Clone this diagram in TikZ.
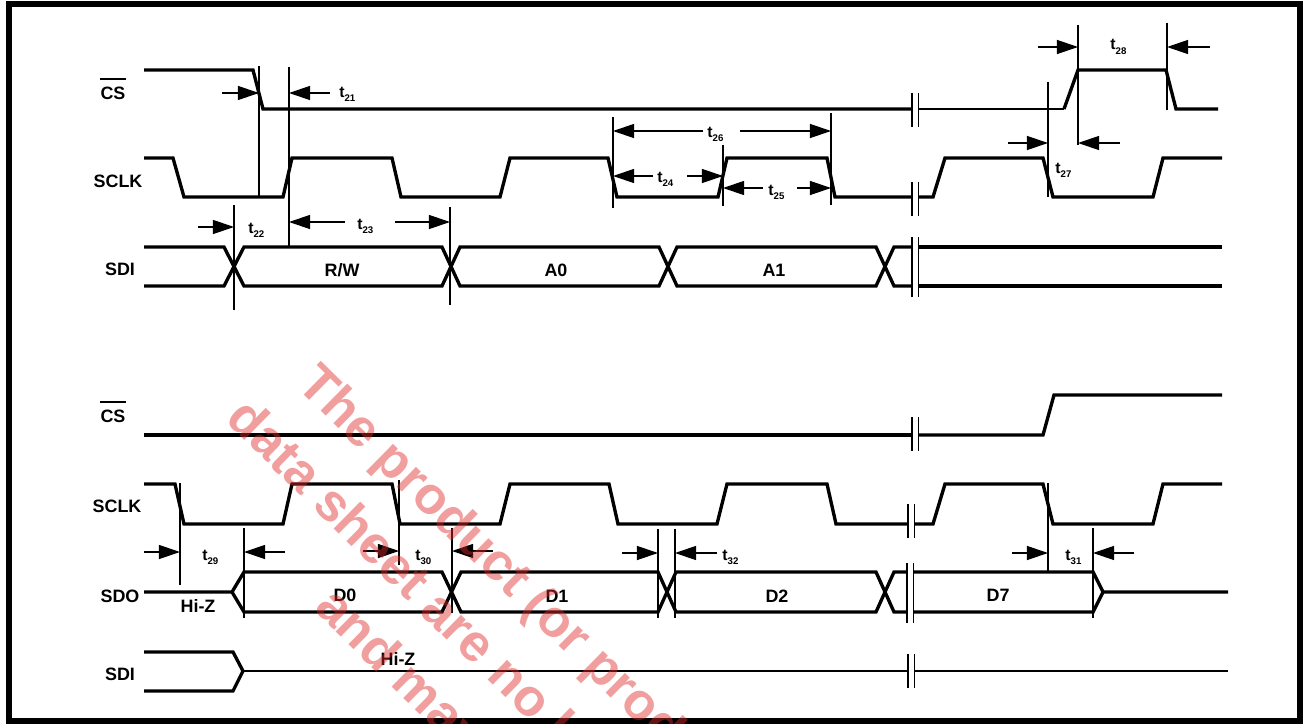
\documentclass[tikz,border=0pt]{standalone}
\usepackage{fontspec}
\setmainfont{Liberation Sans}
\usetikzlibrary{arrows.meta}
\definecolor{wmred}{RGB}{225,40,40}
\newcommand{\tsub}[1]{t\raisebox{-2.8pt}{\fontsize{5.5}{6}\selectfont #1}}
\tikzset{
  sig/.style={line width=1.9pt},
  hiz/.style={line width=1.1pt},
  guide/.style={line width=0.6pt},
  brk/.style={line width=0.8pt},
  dimarr/.style={line width=0.7pt,-{Triangle[length=12pt,width=8pt]}},
  lbl/.style={font=\bfseries\fontsize{10.2}{12}\selectfont,inner sep=0pt,anchor=base},
  tlbl/.style={font=\bfseries\fontsize{9}{10}\selectfont,inner sep=0pt,anchor=base west},
  wm/.style={font=\bfseries\fontsize{29.8}{36}\selectfont,text=wmred,text opacity=0.45,
    inner sep=0pt,anchor=base west,rotate=-44.6}
}
\begin{document}
\begin{tikzpicture}[x=0.02cm,y=-0.02cm]
\useasboundingbox (0,0) rectangle (1304,723);
\draw[line width=3.4pt] (9,4) rectangle (1300,721);

\node[lbl] (cstop) at (113,99) {CS};
\draw[line width=1.1pt] ([yshift=3.8pt]cstop.north west) -- ([yshift=3.8pt]cstop.north east);
\node[lbl] (sclktop) at (118,187) {SCLK};
\node[lbl] (sditop) at (120,275) {SDI};
\node[lbl] (csbot) at (113,422) {CS};
\draw[line width=1.1pt] ([yshift=3.8pt]csbot.north west) -- ([yshift=3.8pt]csbot.north east);
\node[lbl] (sclkbot) at (117,512) {SCLK};
\node[lbl] (sdobot) at (120,602) {SDO};
\node[lbl] (sdibot) at (120,680) {SDI};

\draw[sig] (144,70) -- (253,70) -- (263,109) -- (912,109);
\draw[hiz] (918,109) -- (1064,109);
\draw[sig] (1064,109) -- (1078,70) -- (1166,70) -- (1176,109) -- (1218,109);
\draw[sig] (144,158) -- (173,158) -- (184,197) -- (283,197) -- (292,158) -- (392,158) -- (401,197) -- (500,197) -- (510,158) -- (608,158) -- (617,197) -- (718,197) -- (727,158) -- (827,158) -- (835,197) -- (912,197);
\draw[sig] (918,197) -- (933,197) -- (945,158) -- (1043,158) -- (1053,197) -- (1153,197) -- (1163,158) -- (1222,158);
\draw[sig] (144,247) -- (224,247) -- (244,286) -- (442,286) -- (460,247) -- (659,247) -- (677,286) -- (876,286) -- (894,247) -- (912,247);
\draw[sig] (144,286) -- (224,286) -- (244,247) -- (442,247) -- (460,286) -- (659,286) -- (677,247) -- (876,247) -- (894,286) -- (912,286);
\draw[sig] (918,247) -- (1222,247) (918,286) -- (1222,286);
\node[lbl] (rw) at (342,276) {R/W};
\node[lbl] (azero) at (556,276) {A0};
\node[lbl] (aone) at (774,276) {A1};

\draw[sig] (144,435) -- (912,435);
\draw[sig] (918,435) -- (1043,435) -- (1054,395) -- (1222,395);
\draw[sig] (144,484) -- (175,484) -- (184,524) -- (283,524) -- (292,484) -- (392,484) -- (400,524) -- (500,524) -- (510,484) -- (609,484) -- (618,524) -- (717,524) -- (727,484) -- (827,484) -- (836,524) -- (908,524);
\draw[sig] (914,524) -- (933,524) -- (945,484) -- (1043,484) -- (1053,524) -- (1153,524) -- (1163,484) -- (1222,484);
\draw[sig] (144,592) -- (232,592) -- (244,572) -- (442,572) -- (461,612) -- (658,612) -- (676,572) -- (876,572) -- (894,612) -- (907,612);
\draw[sig] (232,592) -- (244,612) -- (442,612) -- (461,572) -- (658,572) -- (676,612) -- (876,612) -- (894,572) -- (907,572);
\draw[sig] (914,572) -- (1093,572) -- (1103,592) -- (1228,592);
\draw[sig] (914,612) -- (1093,612) -- (1103,592);
\draw[sig] (144,652) -- (233,652) -- (243,671) -- (233,691) -- (144,691);
\draw[hiz] (243,671) -- (908,671) (914,671) -- (1228,671);
\node[lbl] (dzero) at (345,601) {D0};
\node[lbl] (done) at (557,602) {D1};
\node[lbl] (dtwo) at (777,602) {D2};
\node[lbl] (dseven) at (998,601) {D7};
\node[lbl] (hizo) at (198,612) {Hi-Z};
\node[lbl] (hizi) at (398,665) {Hi-Z};

\foreach \x/\ya/\yb in {912/93/127,912/182/216,912/237/297,912/417/451,908/504/538,907/563/623,908/654/688}
  \draw[brk] (\x,\ya) -- (\x,\yb) (\x+6.5,\ya) -- (\x+6.5,\yb);

\foreach \x/\ya/\yb in {259/66/197,289/67/247,234/205/310,450/207/305,613/117/208,723/145/206,831/113/205,1048/82/197,1078/25/145,1167/23/110,
    180/483/585,244/528/618,399/480/565,452/528/613,658/529/618,675/529/618,1048/483/572,1093/528/618}
  \draw[guide] (\x,\ya) -- (\x,\yb);

\foreach \xa/\xb/\y in {222/259/93,330/289/93,198/234/227,345/289/222,395/450/222,703/613/131,740/831/131,653/613/176,687/723/176,
    763/723/188,797/831/188,1038/1078/47,1210/1167/47,1008/1048/143,1120/1078/143,
    144/180/552,285/244/552,363/399/551,493/452/551,622/658/553,717/675/553,1012/1048/553,1134/1093/553}
  \draw[dimarr] (\xa,\y) -- (\xb,\y);

\node[tlbl] (t21) at (339,97) {\tsub{21}};
\node[tlbl] (t22) at (248,233) {\tsub{22}};
\node[tlbl] (t23) at (357,229) {\tsub{23}};
\node[tlbl] (t26) at (707,137) {\tsub{26}};
\node[tlbl] (t24) at (657,182) {\tsub{24}};
\node[tlbl] (t25) at (768,195) {\tsub{25}};
\node[tlbl] (t28) at (1110,50) {\tsub{28}};
\node[tlbl] (t27) at (1055,173) {\tsub{27}};
\node[tlbl] (t29) at (202,560) {\tsub{29}};
\node[tlbl] (t30) at (415,560) {\tsub{30}};
\node[tlbl] (t32) at (722,560) {\tsub{32}};
\node[tlbl] (t31) at (1065,560) {\tsub{31}};

\begin{scope}
\clip (0,0) rectangle (1304,723);
\node[wm] (wmA) at (295,386) {The product (or prod};
\node[wm] (wmB) at (224,420) {data sheet are no l};
\node[wm] (wmC) at (313,609) {and may};
\end{scope}
\end{tikzpicture}
\end{document}
